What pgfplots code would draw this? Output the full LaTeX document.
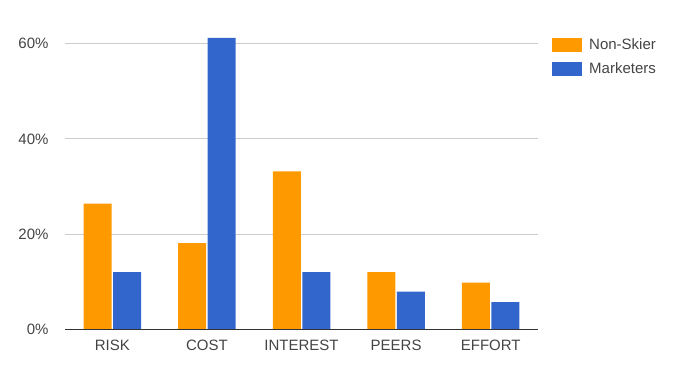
\documentclass[border=0pt]{standalone}
\usepackage{fontspec}
\setmainfont{Liberation Sans}
\usepackage{pgfplots}
\pgfplotsset{compat=1.18}
\definecolor{gorange}{HTML}{FF9900}
\definecolor{gblue}{HTML}{3366CC}
\definecolor{ggrid}{HTML}{CCCCCC}
\definecolor{gtext}{HTML}{444444}
\definecolor{gaxis}{HTML}{333333}
\begin{document}
\begin{tikzpicture}
\useasboundingbox (-65pt,-61.7pt) rectangle (610pt,329.3pt);
\begin{axis}[
  at={(0,0)}, anchor=south west,
  scale only axis,
  width=473pt, height=309.4pt,
  ybar=1.5pt, bar width=28pt,
  xmin=-0.5, xmax=4.5,
  ymin=0, ymax=65,
  xtick=data,
  xticklabels={RISK,COST,INTEREST,PEERS,EFFORT},
  ytick={0,20,40,60},
  yticklabel={\pgfmathprintnumber{\tick}\%},
  /pgf/number format/assume math mode=true,
  ymajorgrids,
  grid style={ggrid, line width=0.8pt},
  axis line style={draw=none},
  major tick length=0pt,
  tick label style={font=\fontsize{15}{18}\selectfont, text=gtext},
  yticklabel style={xshift=-13pt},
  xticklabel style={yshift=-7pt},
  legend style={at={(1,1)}, anchor=north west, xshift=14pt, yshift=-17pt,
    draw=none, fill=none, font=\fontsize{15}{18}\selectfont, text=gtext,
    row sep=7pt, inner sep=0pt,
    /tikz/every odd column/.append style={column sep=5pt}},
  legend cell align=left,
  legend image code/.code={\fill[#1] (0pt,-7pt) rectangle (30pt,7pt);},
  every axis plot/.append style={draw=none},
]
\addplot[fill=gorange] coordinates {(0,26.4) (1,18.1) (2,33.2) (3,12.0) (4,9.8)};
\addplot[fill=gblue] coordinates {(0,12.0) (1,61.2) (2,12.0) (3,7.9) (4,5.7)};
\legend{Non-Skier,Marketers}
\draw[gaxis, line width=1pt] (rel axis cs:0,0) -- (rel axis cs:1,0);
\end{axis}
\end{tikzpicture}
\end{document}
